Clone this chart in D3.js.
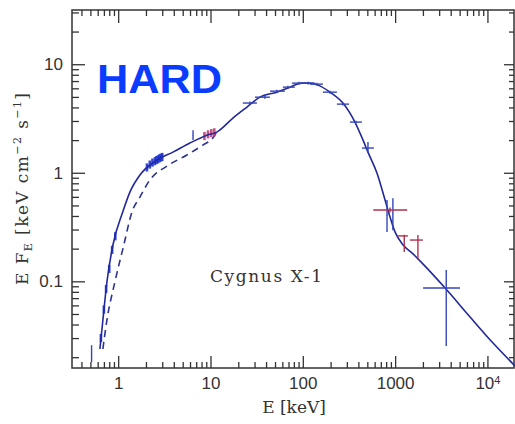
<!DOCTYPE html>
<html>
<head>
<meta charset="utf-8">
<script src="https://cdn.jsdelivr.net/npm/d3@7"></script>
<style>
  html, body { margin: 0; padding: 0; background: #fff; }
  svg { display: block; }
</style>
</head>
<body>
<svg id="chart" width="515" height="424"></svg>
<script>
// ---------- data ----------
// total model (solid line)
const modelE = [0.634, 0.683, 0.755, 0.877, 1.12, 1.34, 1.72, 2.63, 3.92, 5.98, 9.14, 11.7, 17.5, 24.8, 34.3, 52.4, 72.5, 97.7, 119, 146, 197, 272, 367, 449, 508, 637, 778, 881, 1000, 1222, 1529, 2010, 3480, 6490, 11500, 19900];
const modelF = [0.0238, 0.044, 0.0986, 0.216, 0.435, 0.664, 0.953, 1.31, 1.55, 1.88, 2.22, 2.37, 3.19, 4.03, 4.98, 5.53, 6.15, 6.70, 6.70, 6.42, 5.53, 4.39, 2.93, 2.0, 1.55, 0.99, 0.561, 0.391, 0.284, 0.216, 0.182, 0.144, 0.0867, 0.0469, 0.0270, 0.0166];
// component model (dashed line)
const dashE = [0.683, 0.755, 0.921, 1.15, 1.41, 1.72, 2.20, 3.37, 5.55, 8.27, 10.6, 11.7];
const dashF = [0.0238, 0.044, 0.0986, 0.216, 0.435, 0.597, 0.857, 1.15, 1.46, 1.80, 2.09, 2.37];

// data points with error bars
const ptE    = [26.7, 38.8, 52.3, 68.9, 90.7, 114, 142, 197, 272, 376, 508, 817, 946, 881, 1256, 1766, 3580, 0.515, 6.47];
const ptElo  = [22.4, 30.3, 44.1, 60.8, 76.2, 100, 119, 165, 234, 324, 437, 810, 940, 580, 1047, 1445, 2010, 0.512, 6.44];
const ptEhi  = [31.8, 44.0, 64.0, 82.0, 105, 135, 165, 234, 316, 437, 589, 824, 952, 1352, 1377, 2000, 5040, 0.518, 6.50];
const ptF    = [4.39, 4.97, 5.65, 6.15, 6.70, 6.70, 6.56, 5.53, 4.29, 2.93, 1.69, 0.408, 0.42, 0.454, 0.262, 0.240, 0.0867, 0.0224, 2.2];
const ptFlo  = [4.25, 4.82, 5.48, 5.97, 6.50, 6.50, 6.36, 5.36, 4.16, 2.84, 1.52, 0.284, 0.296, 0.43, 0.186, 0.157, 0.0254, 0.018, 2.0];
const ptFhi  = [4.53, 5.12, 5.82, 6.33, 6.90, 6.90, 6.76, 5.70, 4.42, 3.02, 1.92, 0.561, 0.583, 0.48, 0.268, 0.267, 0.127, 0.0258, 2.47];
const ptSet  = ["A", "A", "A", "A", "A", "A", "A", "A", "A", "A", "A", "A", "A", "B", "B", "B", "A", "A", "A"];

// low-energy dense spectrum points
const lowE  = [0.65, 0.70, 0.74, 0.80, 0.86, 0.93, 2.05, 2.2, 2.35, 2.5, 2.6, 2.7, 2.8, 2.9, 3.0, 8.6, 9.4, 10.2, 11.0];
const lowF  = [0.030, 0.055, 0.085, 0.13, 0.195, 0.26, 1.12, 1.19, 1.24, 1.28, 1.31, 1.33, 1.36, 1.38, 1.40, 2.18, 2.26, 2.32, 2.36];
const lowSet = ["A", "A", "A", "A", "A", "A", "A", "A", "A", "A", "A", "A", "A", "A", "A", "B", "B", "B", "B"];

// ticks / labels
const xTickValues = [1, 10, 100, 1000, 10000];
const xTickLabels = ["1", "10", "100", "1000", "10^4"];
const yTickValues = [0.1, 1, 10];
const yTickLabels = ["0.1", "1", "10"];
const xTitle = "E [keV]";
const sourceLabel = "Cygnus X-1";
const stateLabel = "HARD";

// ---------- drawing ----------
const svg = d3.select("#chart");
const L = 72, R = 514, T = 10, B = 368;
const x = d3.scaleLog().domain([0.316, 19400]).range([L, R]);
const y = d3.scaleLog().domain([0.0159, 31.6]).range([B, T]);

const setColor = d3.scaleOrdinal().domain(["A", "B"]).range(["#3446bb", "#b0304f"]);
const lowColor = d3.scaleOrdinal().domain(["A", "B"]).range(["#1d33d6", "#c0407a"]);

const axisColor = "#333";
const isMajor = d => Math.abs(Math.log10(d) - Math.round(Math.log10(d))) < 1e-6;
const xMinor = x.ticks().filter(d => !isMajor(d));
const yMinor = y.ticks().filter(d => !isMajor(d));
const yMajorAll = y.ticks().filter(isMajor);

function styleAxis(g) {
  g.select(".domain").remove();
  g.selectAll(".tick line").attr("stroke", axisColor).attr("stroke-width", 1.3);
}

// bottom axis
svg.append("g").attr("transform", `translate(0,${B})`)
  .call(d3.axisBottom(x).tickValues(xMinor).tickSizeInner(-6).tickFormat(""))
  .call(styleAxis);
const gxb = svg.append("g").attr("transform", `translate(0,${B})`)
  .call(d3.axisBottom(x).tickValues(xTickValues).tickSizeInner(-12).tickPadding(9)
    .tickFormat((d, i) => xTickLabels[i].split("^")[0]))
  .call(styleAxis);
gxb.selectAll(".tick text")
  .attr("font-family", "'Liberation Sans', Arial, sans-serif")
  .attr("font-size", 17).attr("fill", "#333")
  .each(function(d, i) {
    const parts = xTickLabels[i].split("^");
    if (parts.length > 1) {
      d3.select(this).append("tspan").attr("dy", "-0.45em").attr("font-size", 11).text(parts[1]);
    }
  });

// top axis
svg.append("g").attr("transform", `translate(0,${T})`)
  .call(d3.axisTop(x).tickValues(xMinor).tickSizeInner(-6).tickFormat(""))
  .call(styleAxis);
svg.append("g").attr("transform", `translate(0,${T})`)
  .call(d3.axisTop(x).tickValues(xTickValues).tickSizeInner(-13).tickFormat(""))
  .call(styleAxis);

// left axis
svg.append("g").attr("transform", `translate(${L},0)`)
  .call(d3.axisLeft(y).tickValues(yMinor).tickSizeInner(-7).tickFormat(""))
  .call(styleAxis);
const gyl = svg.append("g").attr("transform", `translate(${L},0)`)
  .call(d3.axisLeft(y).tickValues(yTickValues).tickSizeInner(-13).tickPadding(9)
    .tickFormat((d, i) => yTickLabels[i]))
  .call(styleAxis);
gyl.selectAll(".tick text")
  .attr("font-family", "'Liberation Sans', Arial, sans-serif")
  .attr("font-size", 17).attr("fill", "#333");

// right axis
svg.append("g").attr("transform", `translate(${R},0)`)
  .call(d3.axisRight(y).tickValues(yMinor).tickSizeInner(-5).tickFormat(""))
  .call(styleAxis);
svg.append("g").attr("transform", `translate(${R},0)`)
  .call(d3.axisRight(y).tickValues(yMajorAll).tickSizeInner(-10).tickFormat(""))
  .call(styleAxis);

// frame
svg.append("rect").attr("x", L).attr("y", T).attr("width", R - L).attr("height", B - T)
  .attr("fill", "none").attr("stroke", axisColor).attr("stroke-width", 1.5);

// clip
svg.append("clipPath").attr("id", "plotclip").append("rect")
  .attr("x", L).attr("y", T).attr("width", R - L + 2).attr("height", B - T);
const plot = svg.append("g").attr("clip-path", "url(#plotclip)");

const line = d3.line().x(d => x(d[0])).y(d => y(d[1])).curve(d3.curveMonotoneX);

// dashed component
plot.append("path").datum(dashE.map((e, i) => [e, dashF[i]]))
  .attr("d", line).attr("fill", "none").attr("stroke", "#2c3394")
  .attr("stroke-width", 1.6).attr("stroke-dasharray", "7,5");

// low-energy dense data (thicker segments)
plot.selectAll(".low").data(lowE.map((e, i) => ({e, f: lowF[i], s: lowSet[i]})))
  .enter().append("line")
  .attr("x1", d => x(d.e)).attr("x2", d => x(d.e))
  .attr("y1", d => y(d.f * 1.09)).attr("y2", d => y(d.f / 1.09))
  .attr("stroke", d => lowColor(d.s)).attr("stroke-width", 2.6).attr("opacity", 0.9);

// solid model
plot.append("path").datum(modelE.map((e, i) => [e, modelF[i]]))
  .attr("d", line).attr("fill", "none").attr("stroke", "#22289a").attr("stroke-width", 1.6);

// error-bar crosses
const pts = ptE.map((e, i) => ({e, elo: ptElo[i], ehi: ptEhi[i], f: ptF[i], flo: ptFlo[i], fhi: ptFhi[i], s: ptSet[i]}));
const gp = plot.selectAll(".pt").data(pts).enter().append("g");
gp.append("line")
  .attr("x1", d => x(d.elo)).attr("x2", d => x(d.ehi))
  .attr("y1", d => y(d.f)).attr("y2", d => y(d.f))
  .attr("stroke", d => setColor(d.s)).attr("stroke-width", 1.4);
gp.append("line")
  .attr("x1", d => x(d.e)).attr("x2", d => x(d.e))
  .attr("y1", d => y(d.flo)).attr("y2", d => y(d.fhi))
  .attr("stroke", d => setColor(d.s)).attr("stroke-width", 1.4);

// texts
svg.append("text").attr("x", 97).attr("y", 93)
  .attr("font-family", "'Liberation Sans', Arial, sans-serif").attr("font-weight", "bold")
  .attr("font-size", 41).attr("fill", "#0a3cff")
  .attr("textLength", 125).attr("lengthAdjust", "spacingAndGlyphs")
  .text(stateLabel);

svg.append("text").attr("x", 210).attr("y", 282)
  .attr("font-family", "'DejaVu Serif', serif").attr("font-size", 17).attr("fill", "#333")
  .attr("textLength", 112).attr("lengthAdjust", "spacing")
  .text(sourceLabel);

svg.append("text").attr("x", 294).attr("y", 413).attr("text-anchor", "middle")
  .attr("font-family", "'DejaVu Serif', serif").attr("font-size", 17).attr("fill", "#333")
  .text(xTitle);

const yt = svg.append("text")
  .attr("transform", "translate(28,189) rotate(-90)")
  .attr("text-anchor", "middle")
  .attr("font-family", "'DejaVu Serif', serif").attr("font-size", 17).attr("fill", "#333")
  .attr("textLength", 192).attr("lengthAdjust", "spacing");
yt.append("tspan").text("E F");
yt.append("tspan").attr("font-size", 11).attr("dy", 4).text("E");
yt.append("tspan").attr("dy", -4).text(" [keV cm");
yt.append("tspan").attr("font-size", 11).attr("dy", -7).text("−2");
yt.append("tspan").attr("dy", 7).text(" s");
yt.append("tspan").attr("font-size", 11).attr("dy", -7).text("−1");
yt.append("tspan").attr("dy", 7).text("]");
</script>
</body>
</html>
